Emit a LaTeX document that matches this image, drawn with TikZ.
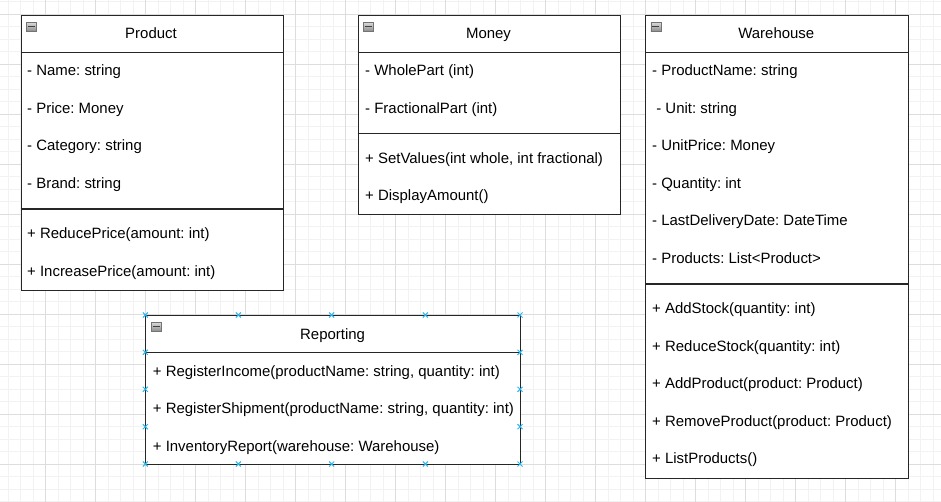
\documentclass[tikz,border=0pt]{standalone}
\usepackage{fontspec}
\setmainfont{Liberation Sans}
\frenchspacing
\begin{document}
\begin{tikzpicture}[x=1pt,y=-1pt,
  minorgrid/.style={draw={rgb,255:red,242;green,242;blue,242},line width=0.9pt},
  majorgrid/.style={draw={rgb,255:red,221;green,221;blue,221},line width=0.9pt},
  classbox/.style={draw=black!85,line width=1.1pt,fill=none,inner sep=0pt,anchor=north west},
  sepline/.style={draw=black!85,line width=1.1pt},
  member/.style={anchor=base west,inner sep=0pt,font=\fontsize{14.95}{17}\selectfont},
  title/.style={anchor=base,inner sep=0pt,font=\fontsize{14.95}{17}\selectfont},
  icon/.style={draw=black!55,line width=0.6pt,top color=black!15,bottom color=black!45,minimum width=10pt,minimum height=9pt,inner sep=0pt,anchor=north west},
  selmark/.style={draw={rgb,255:red,41;green,182;blue,242},line width=1pt}]
\useasboundingbox (0,0) rectangle (941,502);
\fill[white] (0,0) rectangle (941,502);
% grid
\foreach \x in {-4.5,8,...,945} \draw[minorgrid] (\x,0) -- (\x,502);
\foreach \y in {1.8,14.3,...,505} \draw[minorgrid] (0,\y) -- (941,\y);
\foreach \x in {45.5,95.5,...,945} \draw[majorgrid] (\x,0) -- (\x,502);
\foreach \y in {14.3,64.3,...,505} \draw[majorgrid] (0,\y) -- (941,\y);

% ---------- Product ----------
\node[classbox,fill=white,minimum width=262pt,minimum height=275pt] (product) at (20.5,15) {};
\draw[sepline] (20.5,52.3) -- (282.5,52.3);
\draw[sepline] (20.5,209) -- (282.5,209);
\node[icon] (picon) at (26,22) {};
\draw[black!75,line width=1pt] (27.5,26.5) -- (34.5,26.5);
\node[title] (ptitle) at (151,39) {Product};
\node[member] (p1) at (27,76) {- Name: string};
\node[member] (p2) at (27,113.5) {- Price: Money};
\node[member] (p3) at (27,151) {- Category: string};
\node[member] (p4) at (27,188.5) {- Brand: string};
\node[member] (p5) at (27,239) {+ ReducePrice(amount: int)};
\node[member] (p6) at (27,276.5) {+ IncreasePrice(amount: int)};

% ---------- Money ----------
\node[classbox,fill=white,minimum width=262pt,minimum height=199pt] (money) at (357.5,15) {};
\draw[sepline] (357.5,52.5) -- (619.5,52.5);
\draw[sepline] (357.5,133.5) -- (619.5,133.5);
\node[icon] (micon) at (363,22) {};
\draw[black!75,line width=1pt] (364.5,26.5) -- (371.5,26.5);
\node[title] (mtitle) at (488.5,39) {Money};
\node[member] (m1) at (365,76) {- WholePart (int)};
\node[member] (m2) at (365,113.5) {- FractionalPart (int)};
\node[member] (m3) at (365,163.5) {+ SetValues(int whole, int fractional)};
\node[member] (m4) at (365,201) {+ DisplayAmount()};

% ---------- Warehouse ----------
\node[classbox,fill=white,minimum width=262.5pt,minimum height=462.5pt] (warehouse) at (645,15) {};
\draw[sepline] (645,52.3) -- (907.5,52.3);
\draw[sepline] (645,284) -- (907.5,284);
\node[icon] (wicon) at (650.5,22) {};
\draw[black!75,line width=1pt] (652,26.5) -- (659,26.5);
\node[title] (wtitle) at (776.3,39) {Warehouse};
\node[member] (w1) at (652,76) {- ProductName: string};
\node[member] (w2) at (652,113.5) {\ - Unit: string};
\node[member] (w3) at (652,151) {- UnitPrice: Money};
\node[member] (w4) at (652,188.5) {- Quantity: int};
\node[member] (w5) at (652,226) {- LastDeliveryDate: DateTime};
\node[member] (w6) at (652,263.5) {- Products: List<Product>};
\node[member] (w7) at (652,313.5) {+ AddStock(quantity: int)};
\node[member] (w8) at (652,351) {+ ReduceStock(quantity: int)};
\node[member] (w9) at (652,388.5) {+ AddProduct(product: Product)};
\node[member] (w10) at (652,426) {+ RemoveProduct(product: Product)};
\node[member] (w11) at (652,463.5) {+ ListProducts()};

% ---------- Reporting ----------
\node[classbox,fill=white,minimum width=374.7pt,minimum height=149pt] (reporting) at (145.3,315) {};
\draw[sepline] (145.3,352.3) -- (520,352.3);
\node[icon] (ricon) at (151,322) {};
\draw[black!75,line width=1pt] (152.5,326.5) -- (159.5,326.5);
\node[title] (rtitle) at (332.6,339) {Reporting};
\node[member] (r1) at (152.7,376) {+ RegisterIncome(productName: string, quantity: int)};
\node[member] (r2) at (152.7,413.5) {+ RegisterShipment(productName: string, quantity: int)};
\node[member] (r3) at (152.7,451) {+ InventoryReport(warehouse: Warehouse)};

% selection markers
\foreach \x in {145.3,238.3,331.7,425.3,520} {
  \foreach \y in {315,464} {
    \draw[selmark] (\x-2.5,\y-2.5) -- (\x+2.5,\y+2.5) (\x-2.5,\y+2.5) -- (\x+2.5,\y-2.5);
  }
}
\foreach \y in {352.3,389.3,426.7} {
  \foreach \x in {145.3,520} {
    \draw[selmark] (\x-2.5,\y-2.5) -- (\x+2.5,\y+2.5) (\x-2.5,\y+2.5) -- (\x+2.5,\y-2.5);
  }
}
\end{tikzpicture}
\end{document}
